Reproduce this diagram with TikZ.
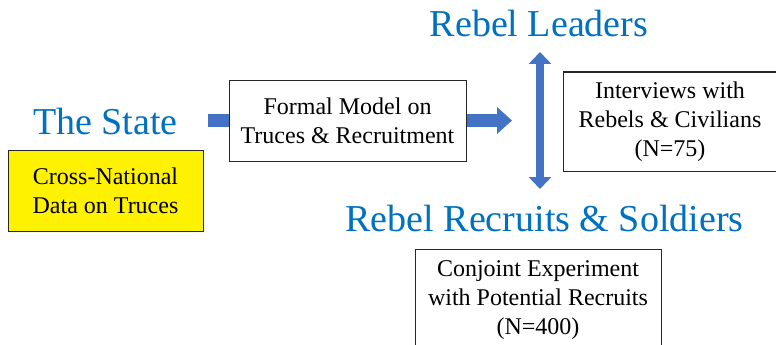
\documentclass[tikz,border=0pt]{standalone}
\usepackage{fontspec}
\setmainfont{Liberation Serif}
\usetikzlibrary{arrows.meta}
\definecolor{headblue}{RGB}{0,112,192}
\definecolor{arrowblue}{RGB}{68,114,196}
\begin{document}
\begin{tikzpicture}[x=1pt,y=-1pt,
  head/.style={font=\fontsize{38}{44}\selectfont, text=headblue, inner sep=0pt},
  box/.style={draw=black!85, line width=1pt, align=center, inner sep=0pt,
    font=\fontsize{24}{29}\selectfont, text=black},
  shaft/.style={draw=arrowblue, line width=13pt},
  tipR/.style={-{Triangle[length=15pt,width=26pt]}},
  dbl/.style={draw=arrowblue, line width=8pt, {Triangle[length=12pt,width=22pt]}-{Triangle[length=12pt,width=22pt]}}
]
\clip (0,0) rectangle (776,345);
\fill[white] (0,0) rectangle (776,345);

\node[head, anchor=base] (state) at (105.5,134) {The State};
\node[head, anchor=base] (leaders) at (539,37) {Rebel Leaders};
\node[head, anchor=base] (recruits) at (544.5,231) {Rebel Recruits \& Soldiers};

\node[box, fill=yellow, minimum width=195, minimum height=81] (data) at (105.5,190.5) {Cross-National\\Data on Truces};
\node[box, fill=white, minimum width=237, minimum height=81] (model) at (347.5,120.5) {Formal Model on\\Truces \& Recruitment};
\node[box, fill=white, minimum width=214, minimum height=99] (interviews) at (670,121.5) {Interviews with\\Rebels \& Civilians\\(N=75)};
\node[box, fill=white, minimum width=246, minimum height=101, anchor=north] (conjoint) at (538,249) {Conjoint Experiment\\with Potential Recruits\\(N=400)};

\coordinate (inL) at (208,120.5);
\coordinate (outR) at (512,120.5);
\coordinate (vt) at (540,52);
\coordinate (vb) at (540,189);
\draw[shaft] (inL) -- (model.west);
\draw[shaft, tipR] (model.east) -- (outR);
\draw[dbl] (vt) -- (vb);
\end{tikzpicture}
\end{document}
